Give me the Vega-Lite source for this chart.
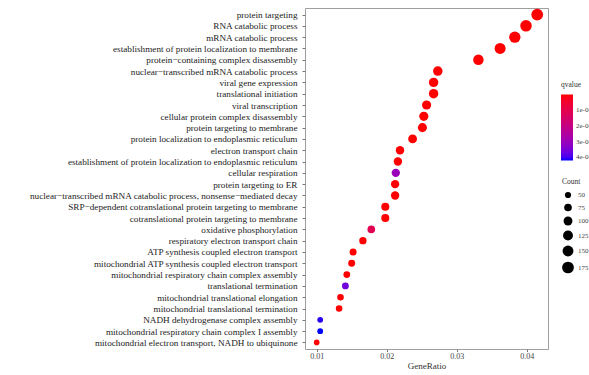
{
  "$schema": "https://vega.github.io/schema/vega-lite/v6.json",
  "autosize": {"type": "none"},
  "padding": {"left": 305, "top": 8, "right": 41, "bottom": 26},
  "width": 243,
  "height": 341,
  "background": "white",
  "data": {"values": [
    {"term": "protein targeting", "GeneRatio": 0.0415, "Count": 175, "qvalue": 1e-9},
    {"term": "RNA catabolic process", "GeneRatio": 0.0399, "Count": 168, "qvalue": 2e-9},
    {"term": "mRNA catabolic process", "GeneRatio": 0.0383, "Count": 162, "qvalue": 2e-9},
    {"term": "establishment of protein localization to membrane", "GeneRatio": 0.0362, "Count": 153, "qvalue": 3e-9},
    {"term": "protein\u2212containing complex disassembly", "GeneRatio": 0.0331, "Count": 140, "qvalue": 3e-9},
    {"term": "nuclear\u2212transcribed mRNA catabolic process", "GeneRatio": 0.0273, "Count": 115, "qvalue": 4e-9},
    {"term": "viral gene expression", "GeneRatio": 0.0267, "Count": 113, "qvalue": 4e-9},
    {"term": "translational initiation", "GeneRatio": 0.0267, "Count": 113, "qvalue": 4e-9},
    {"term": "viral transcription", "GeneRatio": 0.0257, "Count": 108, "qvalue": 5e-9},
    {"term": "cellular protein complex disassembly", "GeneRatio": 0.0253, "Count": 107, "qvalue": 5e-9},
    {"term": "protein targeting to membrane", "GeneRatio": 0.0251, "Count": 106, "qvalue": 5e-9},
    {"term": "protein localization to endoplasmic reticulum", "GeneRatio": 0.0237, "Count": 100, "qvalue": 6e-9},
    {"term": "electron transport chain", "GeneRatio": 0.0219, "Count": 92, "qvalue": 1e-7},
    {"term": "establishment of protein localization to endoplasmic reticulum", "GeneRatio": 0.0216, "Count": 91, "qvalue": 7e-9},
    {"term": "cellular respiration", "GeneRatio": 0.0213, "Count": 90, "qvalue": 3.0e-4},
    {"term": "protein targeting to ER", "GeneRatio": 0.0212, "Count": 89, "qvalue": 8e-9},
    {"term": "nuclear\u2212transcribed mRNA catabolic process, nonsense\u2212mediated decay", "GeneRatio": 0.0212, "Count": 89, "qvalue": 8e-9},
    {"term": "SRP\u2212dependent cotranslational protein targeting to membrane", "GeneRatio": 0.0198, "Count": 84, "qvalue": 9e-9},
    {"term": "cotranslational protein targeting to membrane", "GeneRatio": 0.0198, "Count": 84, "qvalue": 9e-9},
    {"term": "oxidative phosphorylation", "GeneRatio": 0.0178, "Count": 75, "qvalue": 1.1e-4},
    {"term": "respiratory electron transport chain", "GeneRatio": 0.0166, "Count": 70, "qvalue": 2e-7},
    {"term": "ATP synthesis coupled electron transport", "GeneRatio": 0.0152, "Count": 64, "qvalue": 3e-7},
    {"term": "mitochondrial ATP synthesis coupled electron transport", "GeneRatio": 0.0150, "Count": 63, "qvalue": 3e-7},
    {"term": "mitochondrial respiratory chain complex assembly", "GeneRatio": 0.0143, "Count": 60, "qvalue": 4e-7},
    {"term": "translational termination", "GeneRatio": 0.0141, "Count": 60, "qvalue": 3.6e-4},
    {"term": "mitochondrial translational elongation", "GeneRatio": 0.0134, "Count": 57, "qvalue": 5e-7},
    {"term": "mitochondrial translational termination", "GeneRatio": 0.0132, "Count": 56, "qvalue": 5e-7},
    {"term": "NADH dehydrogenase complex assembly", "GeneRatio": 0.0105, "Count": 44, "qvalue": 4.1e-4},
    {"term": "mitochondrial respiratory chain complex I assembly", "GeneRatio": 0.0105, "Count": 44, "qvalue": 4.2e-4},
    {"term": "mitochondrial electron transport, NADH to ubiquinone", "GeneRatio": 0.0100, "Count": 42, "qvalue": 1e-6}
  ]},
  "mark": {"type": "circle", "opacity": 1},
  "encoding": {
    "y": {
      "field": "term", "type": "nominal", "sort": null,
      "scale": {"type": "point", "padding": 0.58},
      "axis": {"title": null, "labelFont": "Liberation Serif", "labelFontSize": 9.2, "labelColor": "#222222", "tickColor": "#777777", "tickSize": 3, "domain": false, "labelPadding": 5, "labelLimit": 400}
    },
    "x": {
      "field": "GeneRatio", "type": "quantitative",
      "scale": {"domain": [0.00833, 0.04304], "nice": false, "zero": false},
      "axis": {"values": [0.01, 0.02, 0.03, 0.04], "format": ".2f", "grid": false, "domain": false, "tickSize": 2.5, "tickColor": "#777777", "labelFont": "Liberation Serif", "labelFontSize": 8, "labelColor": "#444444", "labelPadding": 1, "title": "GeneRatio", "titleFont": "Liberation Serif", "titleFontSize": 9, "titleFontWeight": "normal", "titleColor": "#333333", "titlePadding": 1}
    },
    "size": {
      "field": "Count", "type": "quantitative",
      "scale": {"domain": [42, 175], "range": [32, 138], "zero": false},
      "legend": {"orient": "none", "legendX": 257, "legendY": 170, "values": [50, 75, 100, 125, 150, 175], "title": "Count", "titleFont": "Liberation Serif", "titleFontSize": 7.5, "titleFontWeight": "normal", "titleColor": "#333333", "labelFont": "Liberation Serif", "labelFontSize": 7, "labelColor": "#444444", "symbolFillColor": "black", "symbolStrokeWidth": 0, "symbolOpacity": 1, "padding": 0, "titlePadding": 6, "rowPadding": 5}
    },
    "color": {
      "field": "qvalue", "type": "quantitative",
      "scale": {"domain": [0.00042, 0], "range": ["#0000ff", "#ff0000"], "interpolate": "lab", "zero": false, "nice": false},
      "legend": {"orient": "none", "legendX": 256, "legendY": 73, "title": "qvalue", "titleFont": "Liberation Serif", "titleFontSize": 7.5, "titleFontWeight": "normal", "titleColor": "#333333", "labelFont": "Liberation Serif", "labelFontSize": 7, "labelColor": "#444444", "gradientLength": 66, "gradientThickness": 12, "gradientStrokeWidth": 0, "values": [0.0001, 0.0002, 0.0003, 0.0004], "labelExpr": "replace(format(datum.value, '.0e'), 'e-', 'e-0')", "padding": 0, "titlePadding": 6, "labelOffset": 3}
    }
  },
  "config": {"view": {"stroke": "#9e9e9e", "strokeWidth": 1}, "font": "Liberation Serif"}
}
